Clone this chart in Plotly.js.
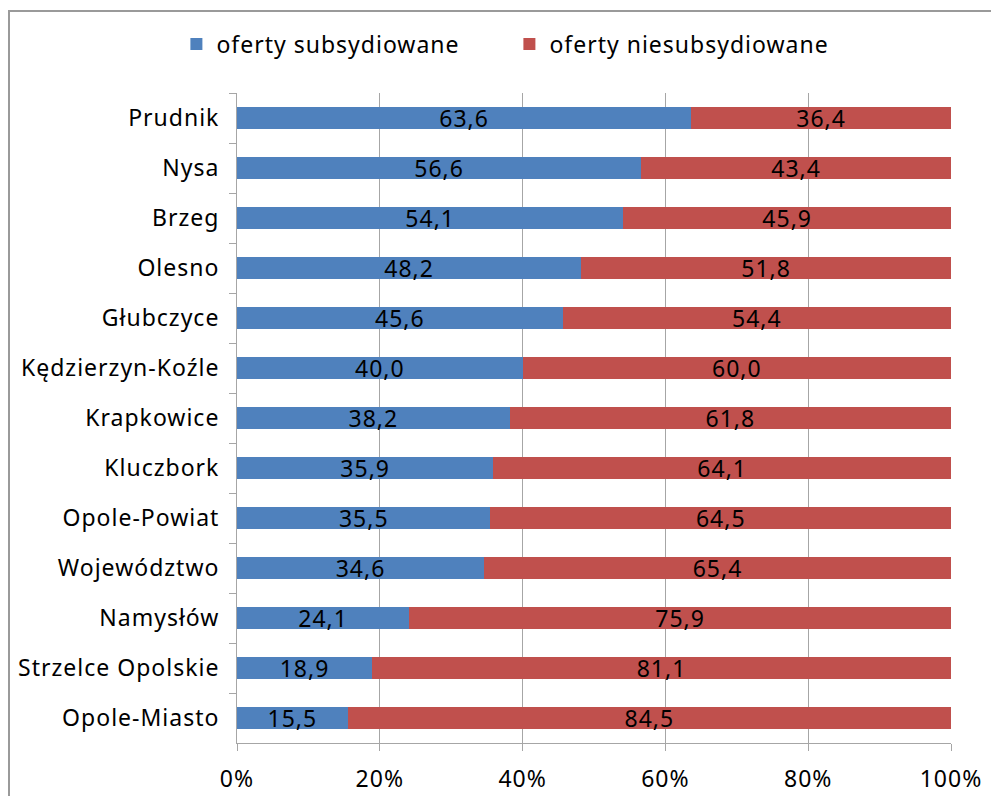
<!DOCTYPE html>
<html>
<head>
<meta charset="utf-8">
<script src="https://cdn.plot.ly/plotly-3.0.1.min.js"></script>
<style>
html,body{margin:0;padding:0;background:#fff;overflow:hidden;}
#frame{position:absolute;left:8px;top:10px;width:1000px;height:800px;border-left:2px solid #9a9a9a;border-top:2px solid #9a9a9a;box-sizing:border-box;}
#chart{position:absolute;left:0;top:0;width:991px;height:796px;}
#chart text{letter-spacing:1px;}
</style>
</head>
<body>
<div id="frame"></div>
<div id="chart"></div>
<script>
const categories = ["Prudnik","Nysa","Brzeg","Olesno","Głubczyce","Kędzierzyn-Koźle","Krapkowice","Kluczbork","Opole-Powiat","Województwo","Namysłów","Strzelce Opolskie","Opole-Miasto"];
const subsidised = [63.6,56.6,54.1,48.2,45.6,40.0,38.2,35.9,35.5,34.6,24.1,18.9,15.5];
const unsubsidised = [36.4,43.4,45.9,51.8,54.4,60.0,61.8,64.1,64.5,65.4,75.9,81.1,84.5];
const seriesNames = ["oferty subsydiowane","oferty niesubsydiowane"];
const xTickVals = [0,20,40,60,80,100];
const xTickText = ["0%","20%","40%","60%","80%","100%"];

const font = "Noto Sans, sans-serif";
const common = {
  type: "bar", orientation: "h", y: categories,
  texttemplate: "%{x:.1f}", textposition: "inside", insidetextanchor: "middle",
  constraintext: "none", textfont: {color: "#000", size: 23, family: font},
  hoverinfo: "skip"
};
const data = [
  Object.assign({}, common, {x: subsidised, name: seriesNames[0], marker: {color: "#4F81BD"}}),
  Object.assign({}, common, {x: unsubsidised, name: seriesNames[1], marker: {color: "#C0504D"}})
];
const layout = {
  width: 991, height: 796,
  margin: {l: 237, r: 40, t: 93, b: 53},
  barmode: "stack", bargap: 0.56,
  separators: ",.",
  paper_bgcolor: "rgba(0,0,0,0)", plot_bgcolor: "rgba(0,0,0,0)",
  font: {family: font, size: 23, color: "#000"},
  showlegend: true,
  legend: {orientation: "h", xref: "container", yref: "container",
           x: 0.178, xanchor: "left", y: 1 - 44/796, yanchor: "middle",
           font: {size: 23, family: font}, itemwidth: 30, traceorder: "normal",
           entrywidth: 288, entrywidthmode: "pixels"},
  xaxis: {range: [0, 100], tickvals: xTickVals, ticktext: xTickText,
          showgrid: true, gridcolor: "#a6a6a6", gridwidth: 1,
          showline: true, linecolor: "#a6a6a6", ticks: "outside", ticklen: 7,
          tickcolor: "#a6a6a6", ticklabelstandoff: 8, zeroline: false, fixedrange: true},
  yaxis: {autorange: "reversed", showline: true, linecolor: "#a6a6a6",
          ticks: "outside", tickson: "boundaries", ticklen: 7, tickcolor: "#a6a6a6",
          ticklabelstandoff: 12, showgrid: false, fixedrange: true}
};
Plotly.newPlot("chart", data, layout, {displayModeBar: false, staticPlot: true});
</script>
</body>
</html>
